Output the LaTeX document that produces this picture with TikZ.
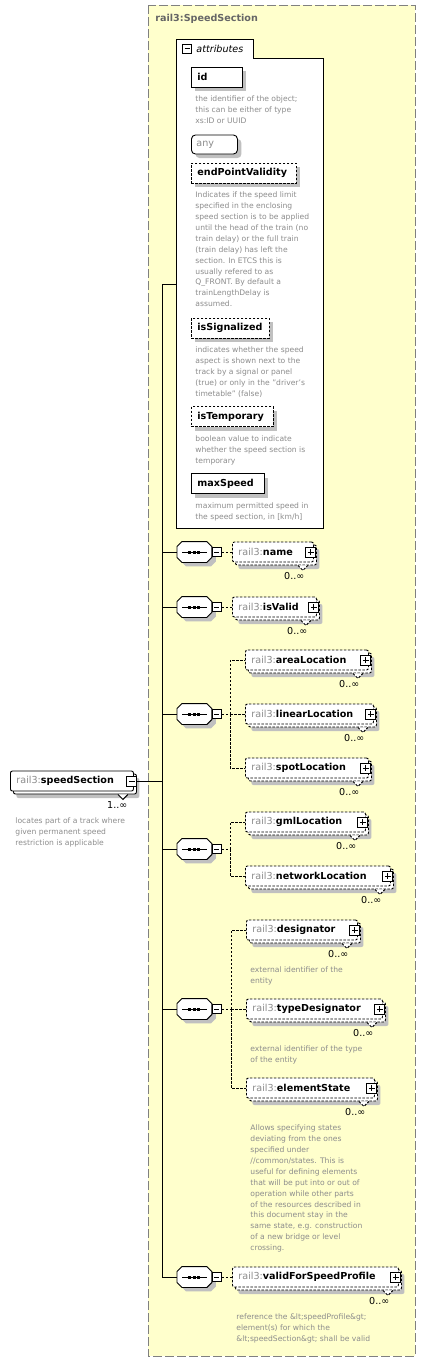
\documentclass[tikz,border=0pt]{standalone}
\usepackage{fontspec}
\setmainfont{DejaVu Sans}
\usetikzlibrary{shadows}
\definecolor{ctfill}{RGB}{255,255,204}
\definecolor{ctline}{RGB}{128,128,128}
\definecolor{greytext}{RGB}{140,140,140}
\definecolor{shade}{RGB}{192,192,192}
\newcommand{\rail}{\textcolor{greytext}{rail3:}}
\tikzstyle{desc} = [anchor=north west, inner sep=0pt, align=left, text=greytext, font=\fontsize{7.6}{10.9}\selectfont]
\tikzstyle{mult} = [anchor=east, inner sep=0pt, font=\fontsize{9.6}{11}\selectfont]
\tikzstyle{attr} = [rectangle, draw, fill=white, anchor=west, minimum height=20pt, inner xsep=6pt, inner ysep=0pt, align=left, font=\fontsize{9.6}{11}\selectfont\bfseries, drop shadow={shadow xshift=4pt, shadow yshift=-4pt, fill=shade, opacity=1}]
\tikzstyle{anyattr} = [rectangle, rounded corners=4pt, draw, fill=white, anchor=west, minimum height=19pt, inner xsep=5pt, inner ysep=0pt, align=left, text=greytext, font=\fontsize{9.6}{11}\selectfont, drop shadow={shadow xshift=4pt, shadow yshift=-4pt, fill=shade, opacity=1}]
\tikzstyle{optional} = [dash pattern=on 2.5pt off 1.5pt]
\tikzstyle{elem} = [rectangle, rounded corners=2pt, draw, fill=white, anchor=west, minimum height=20pt, inner xsep=6pt, inner ysep=0pt, align=left, font=\fontsize{9.6}{11}\selectfont, drop shadow={shadow xshift=6pt, shadow yshift=-7pt, fill=shade, opacity=1}, copy shadow={shadow xshift=3pt, shadow yshift=-3pt, draw=black, fill=white}]
\tikzstyle{seq} = [rectangle, anchor=west, minimum width=34pt, minimum height=20pt, inner sep=0pt]
\tikzstyle{seqframe} = [fill=white, drop shadow={shadow xshift=4pt, shadow yshift=-4pt, fill=shade, opacity=1}]
\tikzstyle{minusbox} = [rectangle, draw, fill=white, minimum size=9pt, inner sep=0pt,
  path picture={\draw ([xshift=2pt]path picture bounding box.west) -- ([xshift=-2pt]path picture bounding box.east);}]
\tikzstyle{plusbox} = [rectangle, draw, fill=white, minimum size=10pt, inner sep=0pt,
  path picture={\draw ([xshift=2pt]path picture bounding box.west) -- ([xshift=-2pt]path picture bounding box.east);
    \draw ([yshift=-2pt]path picture bounding box.north) -- ([yshift=2pt]path picture bounding box.south);}]

\begin{document}
\begin{tikzpicture}[x=1pt, y=-1pt, line width=0.9pt]
    \useasboundingbox (0,0) rectangle (426,1361);
    % complex type
    \draw[ctline, fill=ctfill, dash pattern=on 9pt off 3pt] (148,5) rectangle (415,1356);
    \node[anchor=west, inner sep=0pt, text=black!60, font=\fontsize{9.6}{11}\selectfont\bfseries] (cttitle) at (155,19) {rail3:SpeedSection};

    % attributes
    \draw[fill=white] (176,528) -- (176,39) -- (253,39) -- (253,58) -- (323,58) -- (323,528) -- cycle;
    \node[minusbox] (atminus) at (187,48.5) {};
    \node[anchor=west, inner sep=0pt, font=\fontsize{9.6}{11}\selectfont\itshape] (attitle) at (196,48.5) {attributes};
    \coordinate (atin) at (176,284);

    \node[attr, text width=39pt] (id) at (191,77) {id};
    \node[desc] (iddesc) at (195,95.5) {the identifier of the object;\\this can be either of type\\xs:ID or UUID};
    \node[anyattr, text width=36pt] (any) at (191,144.5) {any};
    \node[attr, optional, text width=93pt] (endpoint) at (191,173) {endPointValidity};
    \node[desc] (endpointdesc) at (195,191.5) {Indicates if the speed limit\\specified in the enclosing\\speed section is to be applied\\until the head of the train (no\\train delay) or the full train\\(train delay) has left the\\section. In ETCS this is\\usually refered to as\\Q\_FRONT. By default a\\trainLengthDelay is\\assumed.};
    \node[attr, optional, text width=66pt] (signalized) at (191,328) {isSignalized};
    \node[desc] (signalizeddesc) at (195,346.5) {indicates whether the speed\\aspect is shown next to the\\track by a signal or panel\\(true) or only in the "driver's\\timetable" (false)};
    \node[attr, optional, text width=70pt] (temporary) at (191,416.5) {isTemporary};
    \node[desc] (temporarydesc) at (195,435.5) {boolean value to indicate\\whether the speed section is\\temporary};
    \node[attr, text width=61pt] (maxspeed) at (191,483.5) {maxSpeed};
    \node[desc] (maxspeeddesc) at (195,502.5) {maximum permitted speed in\\the speed section, in [km/h]};

    % root element
    \node[elem, text width=111pt] (speedsec) at (10,781) {\rail\textbf{speedSection}};
    \node[minusbox, minimum size=10pt] (speedsecminus) at ([xshift=-2pt]speedsec.east) {};
    \draw[fill=white, shift={(speedsec.south east)}] (-16,3) -- (-11,8) -- (-6,3);
    \node[mult] (speedsecmult) at ([xshift=-6pt, yshift=-14pt]speedsec.south east) {1..∞};
    \node[desc] (speedsecdesc) at (15,817.5) {locates part of a track where\\given permanent speed\\restriction is applicable};

    % sequences
    \node[seq] (seq1) at (177,552) {};
    \node[seq] (seq2) at (177,607) {};
    \node[seq] (seq3) at (177,714) {};
    \node[seq] (seq4) at (177,849) {};
    \node[seq] (seq5) at (177,1009) {};
    \node[seq] (seq6) at (177,1277) {};
    \foreach \s in {seq1,seq2,seq3,seq4,seq5,seq6}{
        \draw[seqframe] ([xshift=5pt]\s.north west) -- ([xshift=-5pt]\s.north east) -- ([yshift=-5pt]\s.north east)
            -- ([yshift=5pt]\s.south east) -- ([xshift=-5pt]\s.south east) -- ([xshift=5pt]\s.south west)
            -- ([yshift=5pt]\s.south west) -- ([yshift=-5pt]\s.north west) -- cycle;
        \draw ([xshift=5pt]\s.west) -- ([xshift=-5pt]\s.east);
        \foreach \d in {-4.5,0,4.5}
            \fill ([xshift=\d pt]\s.center) +(-1.5,-1.5) rectangle +(1.5,1.5);
        \node[minusbox, anchor=west] (\s minus) at (\s.east) {};
    }

    % child elements
    \node[elem, optional, text width=69pt] (name) at (232,552) {\rail\textbf{name}};
    \node[elem, optional, text width=72pt] (isvalid) at (232,607) {\rail\textbf{isValid}};
    \node[elem, optional, text width=111pt] (arealoc) at (245,660) {\rail\textbf{areaLocation}};
    \node[elem, optional, text width=116pt] (linearloc) at (245,714) {\rail\textbf{linearLocation}};
    \node[elem, optional, text width=111pt] (spotloc) at (245,768) {\rail\textbf{spotLocation}};
    \node[elem, optional, text width=108pt] (gmlloc) at (245,822) {\rail\textbf{gmlLocation}};
    \node[elem, optional, text width=133pt] (networkloc) at (245,876) {\rail\textbf{networkLocation}};
    \node[elem, optional, text width=99pt] (designator) at (246,930) {\rail\textbf{designator}};
    \node[desc] (designatordesc) at (250,966.5) {external identifier of the\\entity};
    \node[elem, optional, text width=124pt] (typedesignator) at (246,1009) {\rail\textbf{typeDesignator}};
    \node[desc] (typedesignatordesc) at (250,1045.5) {external identifier of the type\\of the entity};
    \node[elem, optional, text width=116pt] (elementstate) at (246,1088) {\rail\textbf{elementState}};
    \node[desc] (elementstatedesc) at (250,1124.5) {Allows specifying states\\deviating from the ones\\specified under\\//common/states. This is\\useful for defining elements\\that will be put into or out of\\operation while other parts\\of the resources described in\\this document stay in the\\same state, e.g. construction\\of a new bridge or level\\crossing.};
    \node[elem, optional, text width=154pt] (validsp) at (232,1277) {\rail\textbf{validForSpeedProfile}};
    \node[desc] (validspdesc) at (236,1313.5) {reference the \&lt;speedProfile\&gt;\\element(s) for which the\\\&lt;speedSection\&gt; shall be valid};

    \foreach \e in {name,isvalid,arealoc,linearloc,spotloc,gmlloc,networkloc,designator,typedesignator,elementstate,validsp}{
        \node[plusbox] (\e plus) at ([xshift=-3pt]\e.east) {};
        \draw[fill=white, optional, shift={(\e.south east)}] (-16,3) -- (-11,8) -- (-6,3);
        \node[mult] (\e mult) at ([xshift=-9pt, yshift=-14pt]\e.south east) {0..∞};
    }

    % connectors
    \coordinate (trunk) at (162,284);
    \draw (atin) -- (trunk) |- (seq6.west);
    \foreach \s in {seq1,seq2,seq3,seq4,seq5}
        \draw (trunk) |- (\s.west);
    \draw (speedsecminus.east) -- (trunk |- speedsecminus.east);
    \draw[optional] (seq1minus.east) -- (name.west);
    \draw[optional] (seq2minus.east) -- (isvalid.west);
    \draw[optional] (seq6minus.east) -- (validsp.west);
    \coordinate (fork3) at (230,714);
    \coordinate (fork4) at (230,849);
    \coordinate (fork5) at (231,1009);
    \draw[optional] (seq3minus.east) -- (fork3);
    \draw[optional] (seq4minus.east) -- (fork4);
    \draw[optional] (seq5minus.east) -- (fork5);
    \foreach \e in {arealoc,linearloc,spotloc}
        \draw[optional] (fork3) |- (\e.west);
    \foreach \e in {gmlloc,networkloc}
        \draw[optional] (fork4) |- (\e.west);
    \foreach \e in {designator,typedesignator,elementstate}
        \draw[optional] (fork5) |- (\e.west);
\end{tikzpicture}
\end{document}
